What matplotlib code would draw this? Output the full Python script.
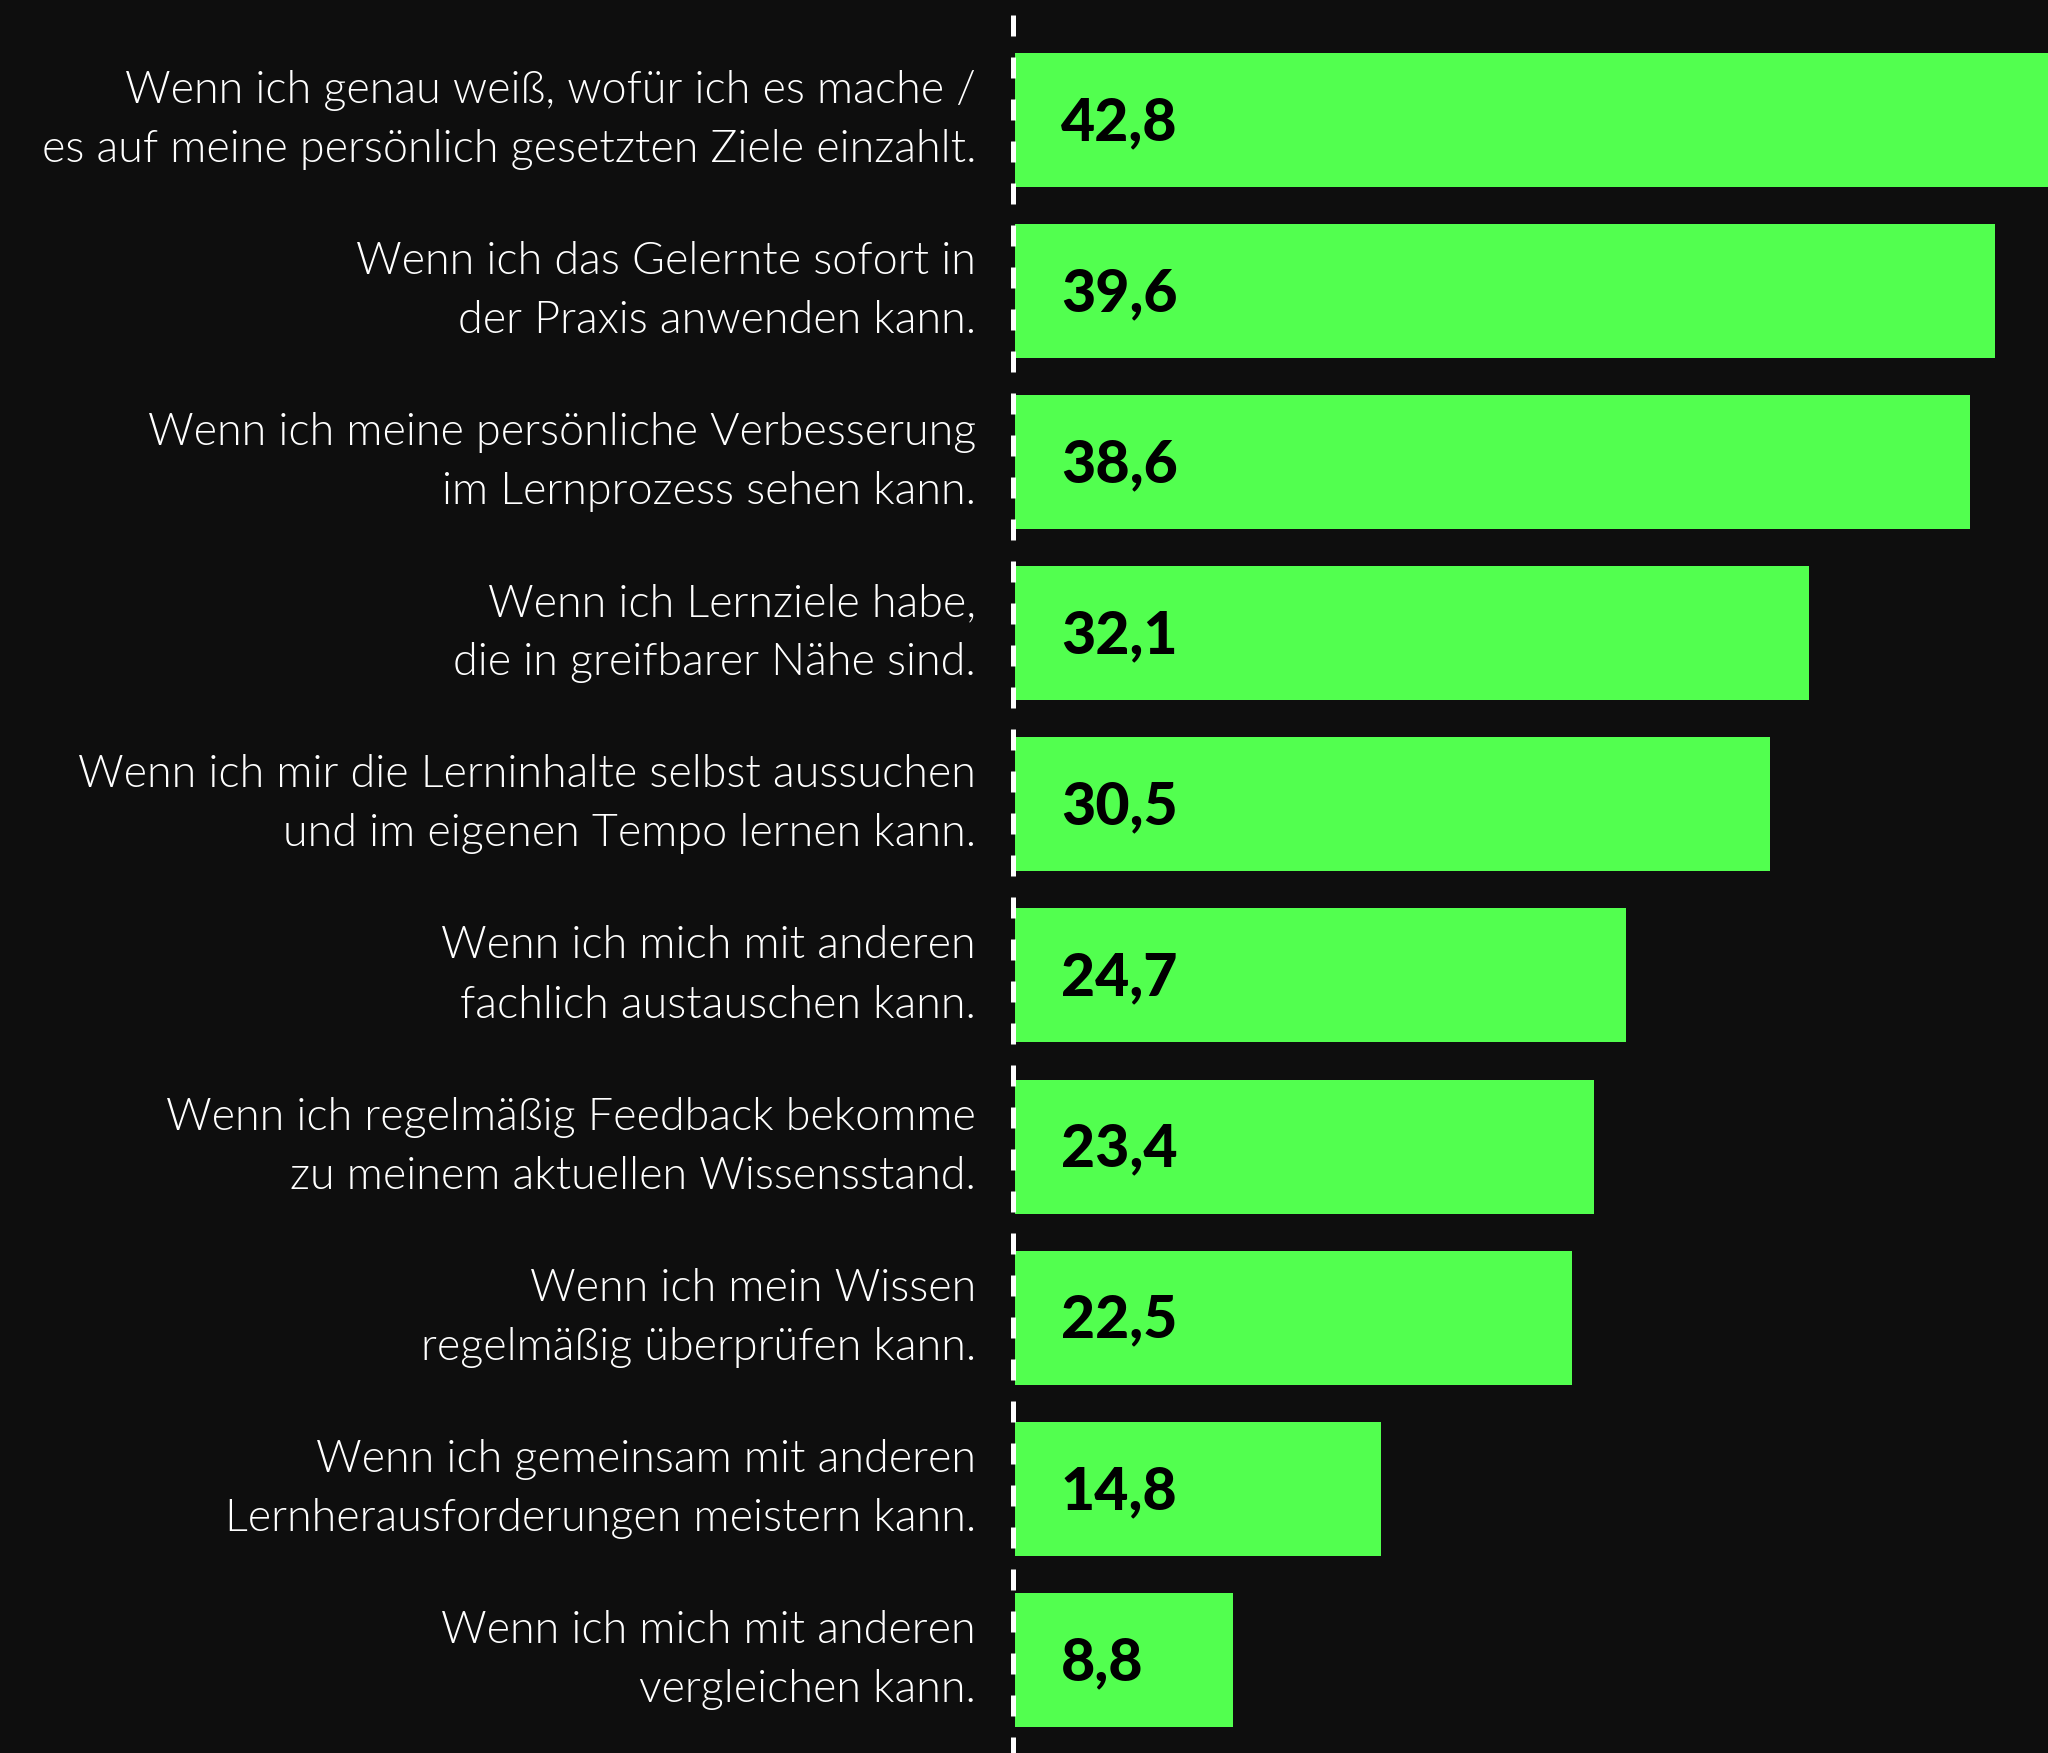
import matplotlib.pyplot as plt

labels = [
    "Wenn ich genau weiß, wofür ich es mache /\nes auf meine persönlich gesetzten Ziele einzahlt.",
    "Wenn ich das Gelernte sofort in\nder Praxis anwenden kann.",
    "Wenn ich meine persönliche Verbesserung\nim Lernprozess sehen kann.",
    "Wenn ich Lernziele habe,\ndie in greifbarer Nähe sind.",
    "Wenn ich mir die Lerninhalte selbst aussuchen\nund im eigenen Tempo lernen kann.",
    "Wenn ich mich mit anderen\nfachlich austauschen kann.",
    "Wenn ich regelmäßig Feedback bekomme\nzu meinem aktuellen Wissensstand.",
    "Wenn ich mein Wissen\nregelmäßig überprüfen kann.",
    "Wenn ich gemeinsam mit anderen\nLernherausforderungen meistern kann.",
    "Wenn ich mich mit anderen\nvergleichen kann.",
]
values = [42.8, 39.6, 38.6, 32.1, 30.5, 24.7, 23.4, 22.5, 14.8, 8.8]
value_labels = ["42,8", "39,6", "38,6", "32,1", "30,5", "24,7", "23,4", "22,5", "14,8", "8,8"]

bg = "#0e0e0e"
green = "#52ff4f"

W, H = 2048, 1753
fig = plt.figure(figsize=(W / 100, H / 100), dpi=100, facecolor=bg)

# axes from x=1010px to the right edge; 24.75 px per unit
px_per_unit = 24.75
left_px = 1010
ax = fig.add_axes([left_px / W, 0, 1 - left_px / W, 1])
ax.set_facecolor(bg)
x0 = -(1015 - left_px) / px_per_unit
ax.set_xlim(x0, x0 + (W - left_px) / px_per_unit)

pitch = 171.1
first_c = 120
ax.set_ylim((H - first_c) / pitch, -first_c / pitch)

ypos = list(range(len(values)))
ax.barh(ypos, values, height=134 / pitch, color=green, left=0)

# dashed baseline
xd = -2 / px_per_unit
ax.plot([xd, xd], [(15 - first_c) / pitch, (H + 20 - first_c) / pitch],
        color="white", lw=3.6, dashes=(4.2, 4.2), solid_capstyle="butt",
        dash_capstyle="butt", clip_on=False, zorder=5)

for y, lab, vl in zip(ypos, labels, value_labels):
    ax.text((976 - 1015) / px_per_unit, y, lab, ha="right", va="center",
            multialignment="right", color="white", fontsize=32.3,
            family="Lato", fontweight=300, linespacing=1.55, clip_on=False)
    ax.text((1061 - 1015) / px_per_unit, y + 0.015, vl, ha="left", va="center",
            color="black", fontsize=42.5, family="Lato", fontweight=900)

ax.axis("off")
fig.savefig("out.png", dpi=100, facecolor=bg)
